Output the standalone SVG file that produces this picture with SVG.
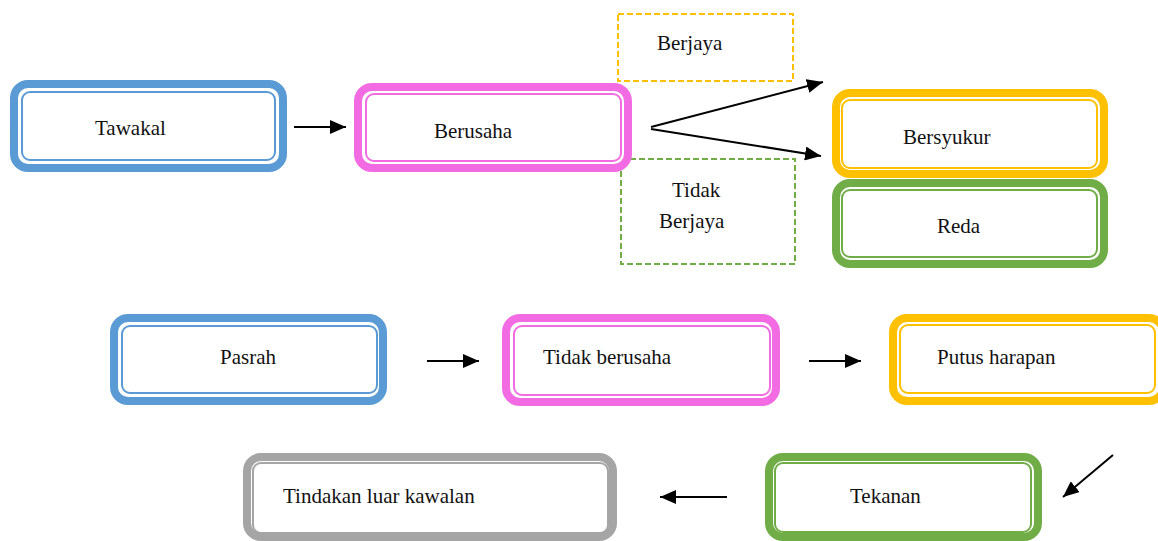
<svg xmlns="http://www.w3.org/2000/svg" width="1158" height="541" viewBox="0 0 1158 541">
<defs>
<marker id="ah" markerUnits="userSpaceOnUse" markerWidth="17" markerHeight="14" refX="16" refY="7" orient="auto">
<path d="M0,0 L16,7 L0,14 z" fill="#000"/>
</marker>
<style>
text{font-family:"Liberation Serif","Times New Roman",serif;font-size:21px;fill:#111}
.o{fill:#fff;stroke-width:8}
.i{fill:none;stroke-width:2}
.blue{stroke:#5B9BD5}
.pink{stroke:#F36BE2}
.gold{stroke:#FFC000}
.green{stroke:#70AD47}
.gray{stroke:#A5A5A5}
.dash{fill:none;stroke-width:2;stroke-dasharray:6 3}
.c{stroke:#000;stroke-width:2;fill:none;marker-end:url(#ah)}
</style>
</defs>
<rect width="1158" height="541" fill="#fff"/>
<g id="berjaya">
<rect class="dash gold" x="618" y="14" width="175" height="67"/>
<text x="657" y="50">Berjaya</text>
</g>
<g id="tidak-berjaya">
<rect class="dash green" x="621" y="159" width="174" height="105"/>
<text x="672" y="197">Tidak</text>
<text x="659" y="228">Berjaya</text>
</g>
<g id="tawakal">
<rect class="o blue" x="14" y="84" width="269" height="84" rx="14"/>
<rect class="i blue" x="22" y="92" width="253" height="68" rx="8"/>
<text x="95" y="135">Tawakal</text>
</g>
<g id="berusaha">
<rect class="o pink" x="358" y="87" width="270" height="81" rx="14"/>
<rect class="i pink" x="366" y="94" width="255" height="67" rx="8"/>
<text x="434" y="138">Berusaha</text>
</g>
<g id="bersyukur">
<rect class="o gold" x="836" y="93" width="268" height="81" rx="14"/>
<rect class="i gold" x="842" y="100" width="255" height="68" rx="8"/>
<text x="903" y="144">Bersyukur</text>
</g>
<g id="reda">
<rect class="o green" x="836" y="183" width="268" height="81" rx="14"/>
<rect class="i green" x="842" y="190" width="255" height="67" rx="8"/>
<text x="937" y="233">Reda</text>
</g>
<g id="pasrah">
<rect class="o blue" x="114" y="318" width="269" height="83" rx="14"/>
<rect class="i blue" x="122" y="326" width="255" height="67" rx="8"/>
<text x="220" y="364">Pasrah</text>
</g>
<g id="tidak-berusaha">
<rect class="o pink" x="506" y="318" width="270" height="84" rx="14"/>
<rect class="i pink" x="514" y="326" width="256" height="69" rx="8"/>
<text x="543" y="364">Tidak berusaha</text>
</g>
<g id="putus-harapan">
<rect class="o gold" x="893" y="318" width="270" height="83" rx="14"/>
<rect class="i gold" x="900" y="325" width="255" height="68" rx="8"/>
<text x="937" y="364">Putus harapan</text>
</g>
<g id="tekanan">
<rect class="o green" x="769" y="457" width="269" height="80" rx="14"/>
<rect class="i green" x="775" y="463" width="256" height="69" rx="8"/>
<text x="850" y="503">Tekanan</text>
</g>
<g id="tindakan">
<rect class="o gray" x="247" y="457" width="366" height="80" rx="14"/>
<rect class="i gray" x="253" y="463" width="355" height="70" rx="8"/>
<text x="283" y="503">Tindakan luar kawalan</text>
</g>
<g id="connectors">
<line class="c" x1="294" y1="127" x2="346" y2="127"/>
<line class="c" x1="651" y1="127" x2="823" y2="82"/>
<line class="c" x1="651" y1="129" x2="821" y2="156"/>
<line class="c" x1="427" y1="361" x2="479" y2="361"/>
<line class="c" x1="809" y1="361" x2="861" y2="361"/>
<line class="c" x1="1113" y1="455" x2="1063" y2="497"/>
<line class="c" x1="727" y1="497" x2="660" y2="497"/>
</g>
</svg>
